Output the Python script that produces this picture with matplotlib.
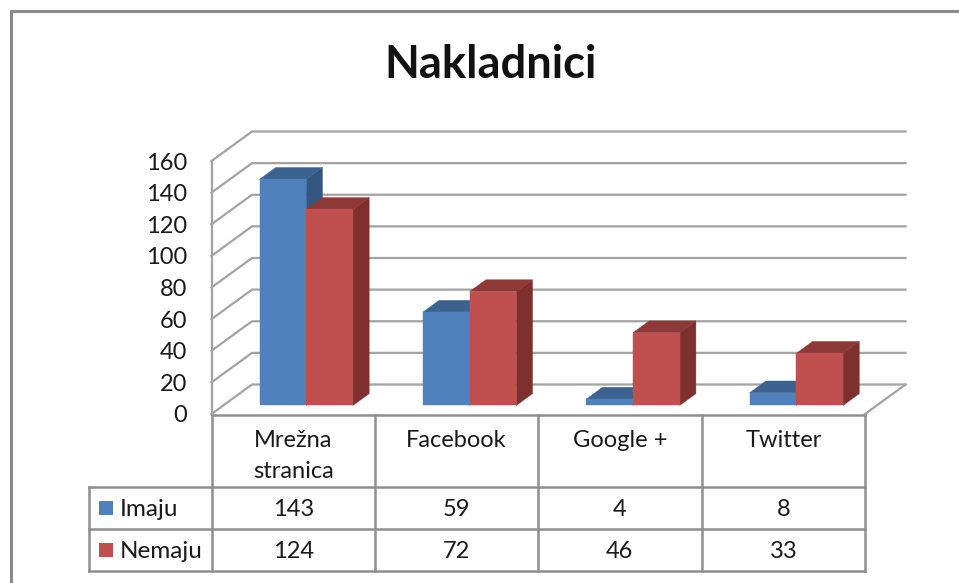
import matplotlib
matplotlib.use("Agg")
import matplotlib.pyplot as plt
from matplotlib.patches import Polygon, Rectangle

plt.rcParams['font.family'] = ['Lato', 'DejaVu Sans']

title = "Nakladnici"
categories = ["Mrežna\nstranica", "Facebook", "Google +", "Twitter"]
series_names = ["Imaju", "Nemaju"]
imaju = [143, 59, 4, 8]
nemaju = [124, 72, 46, 33]
y_ticks = [0, 20, 40, 60, 80, 100, 120, 140, 160]

W, H = 959, 583
GRID = "#a3a3a3"
TABLE = "#8f8f8f"
TXT = "#1a1a1a"
FS = 17
FRONT = ["#4f81bd", "#c0504d"]
TOP = ["#3c6390", "#8c3937"]
SIDE = ["#345780", "#7d302e"]

fig = plt.figure(figsize=(W / 100, H / 100), dpi=100, facecolor="white")

# overlay in pixel coordinates: frame and data table
ov = fig.add_axes([0, 0, 1, 1])
ov.set_xlim(0, W)
ov.set_ylim(H, 0)
ov.axis("off")

# plot axes: the front plane of the 3D box
L, R, T, B = 211.5, 865, 161, 414
ax = fig.add_axes([L / W, 1 - B / H, (R - L) / W, (B - T) / H])
ax.set_xlim(0, len(categories))
ax.set_ylim(0, max(y_ticks))
ax.axis("off")
ax.patch.set_alpha(0)

n = len(categories)
DX = 40.5 / ((R - L) / n)          # depth in category units
DY = 29.5 / ((B - T) / max(y_ticks))  # depth in value units


def p(x, v, d):
    return (x + d * DX, v + d * DY)


# walls / gridlines
for v in y_ticks:
    pts = [p(0, v, 0), p(0, v, 1), p(n, v, 1)]
    ax.plot(*zip(*pts), color=GRID, lw=1.6, clip_on=False, zorder=1, solid_joinstyle="miter")
ax.plot(*zip(p(0, 0, 0), p(0, max(y_ticks), 0)), color=GRID, lw=1.6, clip_on=False, zorder=1)
ax.plot(*zip(p(n, 0, 1), p(n, 0, 0)), color=GRID, lw=1.6, clip_on=False, zorder=1)

for v in y_ticks:
    ax.text(-24 / ((R - L) / n), v, str(v), ha="right", va="center_baseline",
            fontsize=FS, color=TXT, clip_on=False)

# bars
bw = 0.286
d0, d1 = 0.29, 0.69
z = 2
for i in range(n):
    for s, vals in enumerate([imaju, nemaju]):
        x0 = i + 0.508 - bw + s * bw
        x1 = x0 + bw
        v = vals[i]
        faces = [
            ([p(x1, 0, d0), p(x1, 0, d1), p(x1, v, d1), p(x1, v, d0)], SIDE[s]),
            ([p(x0, v, d0), p(x1, v, d0), p(x1, v, d1), p(x0, v, d1)], TOP[s]),
            ([p(x0, 0, d0), p(x1, 0, d0), p(x1, v, d0), p(x0, v, d0)], FRONT[s]),
        ]
        for pts, col in faces:
            ax.add_patch(Polygon(pts, closed=True, facecolor=col, edgecolor=col, lw=0.3,
                                 clip_on=False, zorder=z))
            z += 1

# title
ov.text(491, 64.5, title, ha="center", va="center", fontsize=32.7, fontweight="bold", color="#111111")

# outer frame
ov.plot([10.5, 10.5, W], [H, 11, 11], color="#8a8a8a", lw=2.2, solid_joinstyle="miter")

# data table
col_x = [L + (R - L) * i / n for i in range(n + 1)]
LEG = 88.5
row_y = [414.5, 487, 529, 570.5]
tb = dict(color=TABLE, lw=1.8, solid_capstyle="projecting")
ov.plot([L, R], [row_y[0], row_y[0]], **tb)
for y in row_y[1:]:
    ov.plot([LEG, R], [y, y], **tb)
for x in col_x:
    ov.plot([x, x], [row_y[0], row_y[3]], **tb)
ov.plot([LEG, LEG], [row_y[1], row_y[3]], **tb)

for i, c in enumerate(categories):
    cx = (col_x[i] + col_x[i + 1]) / 2
    ov.text(cx, 456 if "\n" in c else 440.5, c, ha="center", va="center", fontsize=FS,
            color=TXT, linespacing=1.6)
    for r, vals in enumerate([imaju, nemaju]):
        ov.text(cx, (row_y[r + 1] + row_y[r + 2]) / 2, str(vals[i]), ha="center",
                va="center_baseline", fontsize=FS, color=TXT)

for r, name in enumerate(series_names):
    yc = (row_y[r + 1] + row_y[r + 2]) / 2
    ov.add_patch(Rectangle((99, yc - 7), 14, 14, facecolor=FRONT[r], edgecolor="none"))
    ov.text(119.5, yc, name, ha="left", va="center_baseline", fontsize=FS + 0.5, color=TXT)

fig.savefig("out.png", dpi=100)
